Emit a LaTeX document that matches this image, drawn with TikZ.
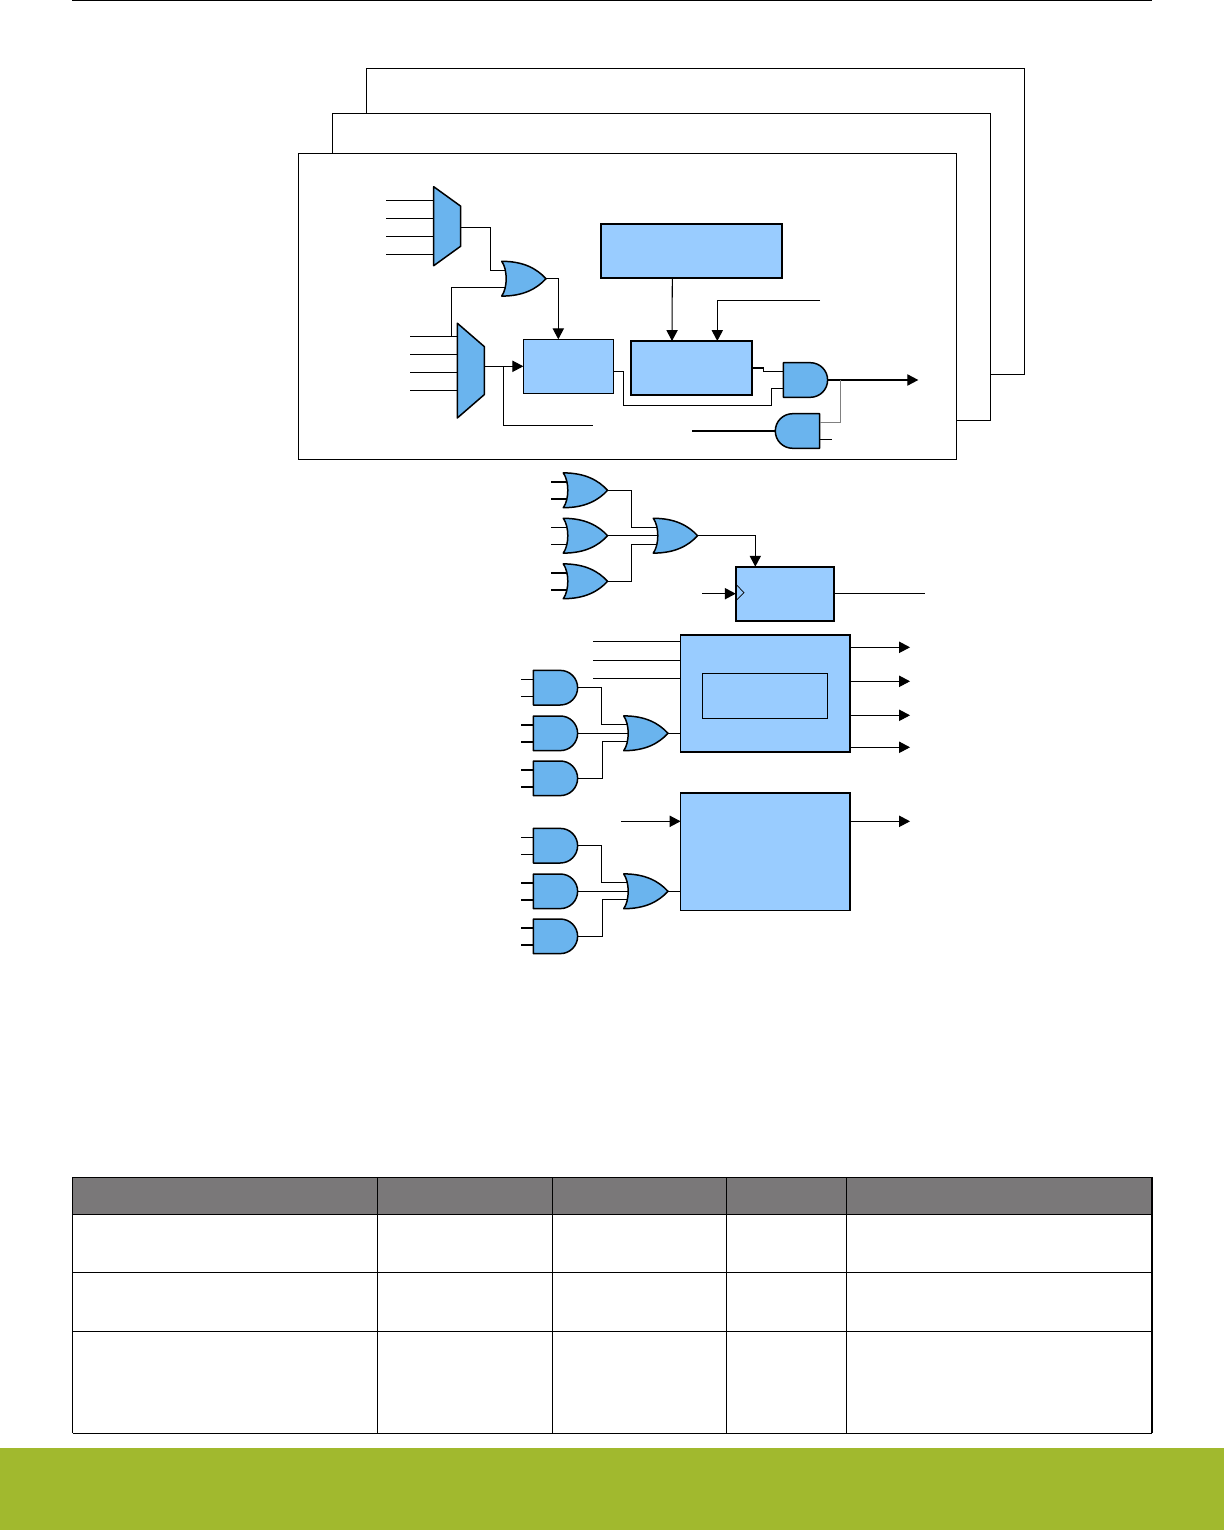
\documentclass[tikz,border=0pt]{standalone}
\usetikzlibrary{arrows.meta}
\definecolor{blockblue}{HTML}{99CCFF}
\definecolor{gateblue}{HTML}{6AB4EE}
\definecolor{headgray}{HTML}{7A7879}
\definecolor{footgreen}{HTML}{A1B92E}
\tikzset{
  wire/.style={line width=0.6pt},
  stub/.style={line width=1pt},
  sig/.style={line width=0.6pt,-{Triangle[length=6.2pt,width=6.4pt]}},
  gatefill/.style={draw,line width=0.85pt,fill=gateblue,line join=round},
  blockbox/.style={draw,line width=0.7pt,fill=blockblue,inner sep=0pt,outer sep=0pt},
  heavybox/.style={blockbox,line width=0.95pt},
  orgate/.pic={
    \draw[gatefill] (0,-17.4) .. controls (22,-17.4) and (35,-10) .. (44.3,0)
      .. controls (35,10) and (22,17.4) .. (0,17.4)
      .. controls (6,9) and (6,-9) .. (0,-17.4) -- cycle;
    \coordinate (-in1) at (3.5,-8.5);
    \coordinate (-in0) at (4.5,0);
    \coordinate (-in2) at (3.5,8.5);
    \coordinate (-out) at (44.3,0);
  },
  andgate/.pic={
    \draw[gatefill] (0,-17.3) -- (27,-17.3)
      .. controls (36.6,-17.3) and (44.3,-9.6) .. (44.3,0)
      .. controls (44.3,9.6) and (36.6,17.3) .. (27,17.3) -- (0,17.3) -- cycle;
    \coordinate (-in1) at (0,-8.5);
    \coordinate (-in2) at (0,8.5);
    \coordinate (-out) at (44.3,0);
  },
  pics/mux/.style n args={4}{code={
    \draw[gatefill] (0,#3-#1) -- (27,#3-#2) -- (27,#3+#2) -- (0,#3+#1) -- cycle;
    \coordinate (-in1) at (0,-27);
    \coordinate (-in2) at (0,-9);
    \coordinate (-in3) at (0,9);
    \coordinate (-in4) at (0,27);
    \coordinate (-out) at (27,#4);
  }},
}
\begin{document}
\begin{tikzpicture}[x=0.02cm,y=-0.02cm]
  \useasboundingbox (0,0) rectangle (1224,1530);
  % page furniture
  \draw[wire] (72,0.6) -- (1152,0.6);
  \fill[footgreen] (0,1448) rectangle (1224,1530);
  \fill[headgray] (72.5,1177.3) rectangle (1152,1214.3);
  \foreach \y in {1177.3,1214.3,1272.3,1331.3,1433.3}
    \draw[wire] (72.5,\y) -- (1152,\y);
  \foreach \x in {72.5,377.3,552.5,726.3,846.2,1152}
    \draw[wire] (\x,1177.3) -- (\x,1433.3);
  % stacked frames
  \draw[wire] (366.3,113.3) |- (1024.3,68.3) |- (990.3,374.3);
  \draw[wire] (332.3,153.5) |- (990.3,113.3) |- (956.7,420.3);
  \draw[wire] (298.5,153.5) rectangle (956.7,459.5);
  % front channel
  \pic (muxa) at (433.7,227.3) {mux={39.5}{20}{-1.1}{0}};
  \pic (muxb) at (457.3,363.3) {mux={47.4}{24}{7.3}{3}};
  \pic (orx) at (501.7,278.7) {orgate};
  \pic (andx) at (783.3,380) {andgate};
  \pic[xscale=-1] (andy) at (819.6,431) {andgate};
  \node[blockbox,minimum width=1.8cm,minimum height=1.08cm] (inbox) at (568.3,366.3) {};
  \node[heavybox,minimum width=3.62cm,minimum height=1.08cm] (topbox) at (691.8,251) {};
  \node[heavybox,minimum width=2.43cm,minimum height=1.08cm] (midbox) at (691.5,368) {};
  \coordinate (enin) at (820,300.3);
  \coordinate (qout) at (918.3,380);
  \foreach \i in {1,...,4}{
    \draw[wire] (muxa-in\i) -- ++(-47.7,0);
    \draw[wire] (muxb-in\i) -- ++(-47.6,0);
  }
  \draw[wire] (muxa-out) -- ++(29.6,0) |- (orx-in1);
  \draw[wire] (orx-in2) -| ([xshift=-0.12cm]muxb-in1);
  \draw[sig] (orx-out) -| ([xshift=-0.2cm]inbox.north);
  \draw[sig] (muxb-out) -- (inbox.west);
  \draw[wire] ([xshift=0.38cm]muxb-out) |- ++(90,59);
  \draw[wire] ([yshift=-0.1cm]inbox.east) -- ++(10,0) |- ++(148.4,34.4) |- (andx-in2);
  \draw[sig] ([xshift=-0.39cm]topbox.south) -- ([xshift=-0.39cm]midbox.north);
  \draw[sig] (enin) -| ([xshift=0.516cm]midbox.north);
  \draw[wire] (midbox.east) -- ++(11,0) |- (andx-in1);
  \draw[sig] (andx-out) -- (qout);
  \draw[wire,black!50] ([xshift=0.25cm]andx-out) |- (andy-in1);
  \draw[wire] (andy-in2) -- ++(12.4,0);
  \draw[wire] (andy-out) -- ++(-83,0);
  % flag register
  \pic (orp) at (563.3,490.3) {orgate};
  \pic (orq) at (563.3,535.7) {orgate};
  \pic (orr) at (563.3,581.3) {orgate};
  \pic (ors) at (653.3,535.7) {orgate};
  \node[heavybox,minimum width=1.97cm,minimum height=1.08cm] (ffbox) at (785,593.7) {};
  \coordinate (clkin) at (702,593.7);
  \coordinate (ffout) at (925,593.7);
  \foreach \g/\s in {orp/stub,orq/wire,orr/stub}{
    \draw[\s] (\g-in1) -- ++(-15.8,0);
    \draw[\s] (\g-in2) -- ++(-15.8,0);
  }
  \draw[wire] (orp-out) -- ++(23.6,0) |- (ors-in1);
  \draw[wire] (orr-out) -- ++(23.6,0) |- (ors-in2);
  \draw[wire] (orq-out) -- (ors-in0);
  \draw[sig] (ors-out) -| ([xshift=-0.594cm]ffbox.north);
  \draw[sig] (clkin) -- (ffbox.west);
  \draw[line width=0.4pt] (735.7,584) -- (744,592.7) -- (735.7,601);
  \draw[wire] (ffbox.east) -- (ffout);
  % lower blocks
  \node[heavybox,minimum width=3.39cm,minimum height=2.35cm] (bigboxa) at (765.3,693.5) {};
  \node[blockbox,minimum width=2.5cm,minimum height=0.9cm] (innerbox) at (764.8,695.8) {};
  \node[heavybox,minimum width=3.39cm,minimum height=2.35cm] (bigboxb) at (765.3,851.7) {};
  \coordinate (bin) at (621,821.3);
  \foreach \d in {1.044,0.664,0.304}
    \draw[wire] ([yshift=\d cm]bigboxa.west) -- ++(-88,0);
  \foreach \d in {0.924,0.244,-0.436,-1.076}
    \draw[sig] ([yshift=\d cm]bigboxa.east) -- ++(60,0);
  \draw[sig] (bin) -- (bin -| bigboxb.west);
  \draw[sig] ([yshift=0.608cm]bigboxb.east) -- ++(60,0);
  \foreach \k/\dy/\b in {u/0/bigboxa,v/158/bigboxb}{
    \pic (and\k1) at (533.3,687.7+\dy) {andgate};
    \pic (and\k2) at (533.3,733.3+\dy) {andgate};
    \pic (and\k3) at (533.3,778.3+\dy) {andgate};
    \pic (or\k) at (623.7,733.3+\dy) {orgate};
    \foreach \i/\s in {1/wire,2/stub,3/stub}{
      \draw[\s] (and\k\i-in1) -- ++(-12.3,0);
      \draw[\s] (and\k\i-in2) -- ++(-12.3,0);
    }
    \draw[wire] (and\k1-out) -- ++(23.6,0) |- (or\k-in1);
    \draw[wire] (and\k3-out) -- ++(24.6,0) |- (or\k-in2);
    \draw[wire] (and\k2-out) -- (or\k-in0);
    \draw[wire] (or\k-out) -- (or\k-out -| \b.west);
  }
\end{tikzpicture}
\end{document}
